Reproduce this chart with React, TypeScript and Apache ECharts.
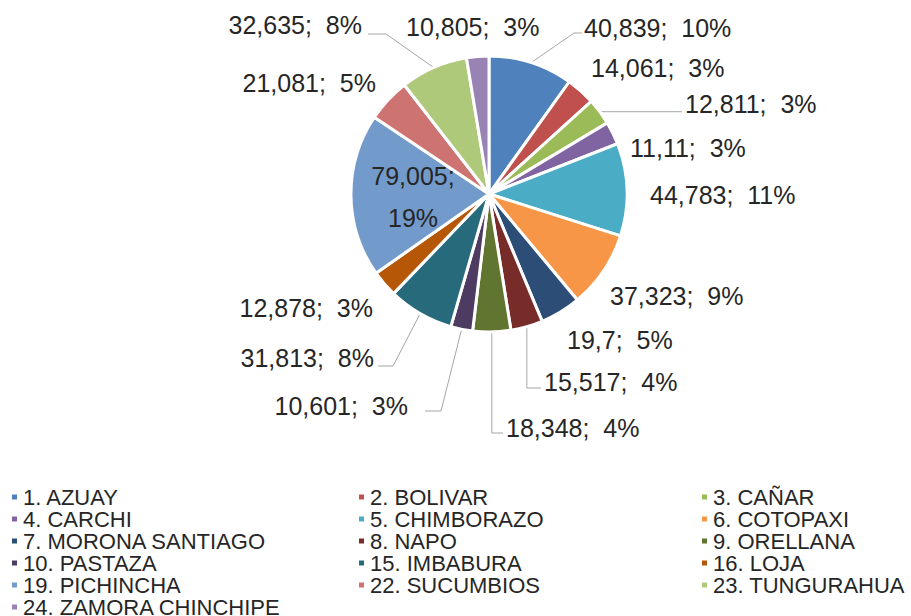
import React, { useEffect, useRef } from "react";
import * as echarts from "echarts";

const categories = [
  "1. AZUAY", "2. BOLIVAR", "3. CAÑAR", "4. CARCHI", "5. CHIMBORAZO", "6. COTOPAXI",
  "7. MORONA SANTIAGO", "8. NAPO", "9. ORELLANA", "10. PASTAZA", "15. IMBABURA", "16. LOJA",
  "19. PICHINCHA", "22. SUCUMBIOS", "23. TUNGURAHUA", "24. ZAMORA CHINCHIPE",
];
const values = [
  40.839, 14.061, 12.811, 11.11, 44.783, 37.323, 19.7, 15.517, 18.348, 10.601, 31.813, 12.878,
  79.005, 21.081, 32.635, 10.805,
];
const colors = [
  "#4F81BD", "#C0504D", "#9BBB59", "#8064A2", "#4BACC6", "#F79646", "#2C4D75", "#772C2A",
  "#5F7530", "#4D3B62", "#276A7C", "#B65708", "#729ACA", "#CD7371", "#AFC97A", "#9983B5",
];
const legendColumns = [
  ["1. AZUAY", "4. CARCHI", "7. MORONA SANTIAGO", "10. PASTAZA", "19. PICHINCHA", "24. ZAMORA CHINCHIPE"],
  ["2. BOLIVAR", "5. CHIMBORAZO", "8. NAPO", "15. IMBABURA", "22. SUCUMBIOS"],
  ["3. CAÑAR", "6. COTOPAXI", "9. ORELLANA", "16. LOJA", "23. TUNGURAHUA"],
];

// label placement (layout only)
const labelPlace: { x: number; y: number; align: string }[] = [
  { x: 584, y: 28, align: "left" },
  { x: 591, y: 68, align: "left" },
  { x: 685, y: 104, align: "left" },
  { x: 630, y: 148, align: "left" },
  { x: 650, y: 195, align: "left" },
  { x: 610, y: 296, align: "left" },
  { x: 567, y: 340, align: "left" },
  { x: 544, y: 382, align: "left" },
  { x: 506, y: 428, align: "left" },
  { x: 408, y: 406, align: "right" },
  { x: 374, y: 358, align: "right" },
  { x: 373, y: 308, align: "right" },
  { x: 413, y: 197, align: "center" },
  { x: 376, y: 83, align: "right" },
  { x: 362, y: 25, align: "right" },
  { x: 406, y: 27, align: "left" },
];
const withLine = [0, 2, 7, 8, 9, 10, 14];

export default function App() {
  const ref = useRef<HTMLDivElement>(null);
  useEffect(() => {
    if (!ref.current) return;
    const chart = echarts.init(ref.current, null, { renderer: "svg" });
    const fmt = (v: number) => String(v).replace(".", ",");
    const linePts = (i: number, e: number[]) => {
      switch (i) {
        case 0: return [e, [574, 33], [582, 33]];
        case 2: return [e, [682, e[1]]];
        case 7: return [e, [e[0], 388], [541, 388]];
        case 8: return [e, [e[0], 433], [503, 433]];
        case 9: return [e, [441, 411], [425, 411]];
        case 10: return [e, [393, 366], [378, 366]];
        case 14: return [e, [386, 34], [368, 34]];
      }
      return undefined;
    };
    chart.setOption({
      animation: false,
      backgroundColor: "#ffffff",
      color: colors,
      textStyle: { fontFamily: "Liberation Sans, Arial, sans-serif" },
      legend: legendColumns.map((col, k) => ({
        orient: "vertical",
        left: [10, 357, 700][k],
        top: 486,
        height: 160,
        data: col,
        icon: "rect",
        itemWidth: 7,
        itemHeight: 7,
        itemGap: 0,
        padding: 0,
        selectedMode: false,
        textStyle: {
          fontSize: 22,
          lineHeight: 21.8,
          color: "#262626",
          fontFamily: "Liberation Sans, Arial, sans-serif",
        },
      })),
      series: [
        {
          type: "pie",
          center: [489, 194],
          radius: 138,
          startAngle: 90,
          clockwise: true,
          avoidLabelOverlap: false,
          itemStyle: { borderColor: "#ffffff", borderWidth: 3 },
          label: {
            show: true,
            position: "outside",
            fontSize: 25,
            color: "#262626",
            fontFamily: "Liberation Sans, Arial, sans-serif",
            formatter: (p: any) =>
              p.dataIndex === 12
                ? `${fmt(p.value)};\n${Math.round(p.percent)}%`
                : `${fmt(p.value)};  ${Math.round(p.percent)}%`,
          },
          labelLine: { show: false, lineStyle: { color: "#A6A6A6", width: 1 } },
          labelLayout: (p: any) => {
            const lp = labelPlace[p.dataIndex];
            const res: any = { x: lp.x, y: lp.y, align: lp.align, verticalAlign: "middle" };
            if (p.labelLinePoints && withLine.includes(p.dataIndex)) {
              const pts = linePts(p.dataIndex, p.labelLinePoints[0]);
              if (pts) res.labelLinePoints = pts;
            }
            return res;
          },
          data: categories.map((name, i) => ({
            name,
            value: values[i],
            labelLine: { show: withLine.includes(i), length: 10, length2: 10 },
            label: i === 12 ? { lineHeight: 42 } : undefined,
          })),
        },
      ],
    });
    return () => chart.dispose();
  }, []);
  return (
    <div
      ref={ref}
      style={{ position: "fixed", left: 0, top: 0, width: 911, height: 616 }}
    />
  );
}
